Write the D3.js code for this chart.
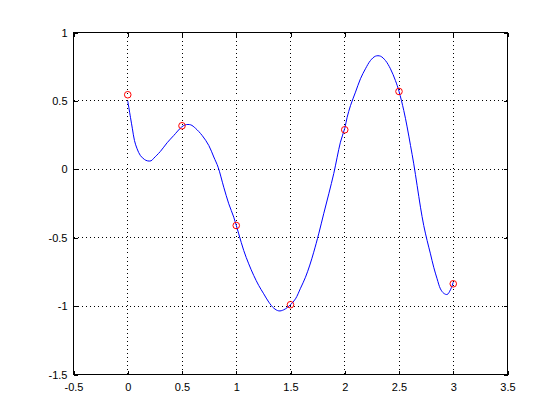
<!DOCTYPE html>
<html>
<head>
<meta charset="utf-8">
<script src="https://cdn.jsdelivr.net/npm/d3@7"></script>
<style>
  html, body { margin: 0; padding: 0; background: #fff; }
  svg { display: block; }
  text { font-family: "Liberation Sans", Arial, Helvetica, sans-serif; font-size: 11px; fill: #000; }
</style>
</head>
<body>
<script>
// ---- data ----
const xTicks = [-0.5, 0, 0.5, 1, 1.5, 2, 2.5, 3, 3.5];
const yTicks = [-1.5, -1, -0.5, 0, 0.5, 1];
const xTickLabels = ["-0.5", "0", "0.5", "1", "1.5", "2", "2.5", "3", "3.5"];
const yTickLabels = ["-1.5", "-1", "-0.5", "0", "0.5", "1"];

// sample points (red circles)
const sampleX = [0, 0.5, 1, 1.5, 2, 2.5, 3];
const sampleY = [0.545, 0.318, -0.411, -0.99, 0.289, 0.569, -0.837];

// blue curve
const curveX = [0.000, 0.025, 0.043, 0.062, 0.086, 0.117, 0.154, 0.180, 0.215, 0.240,
  0.300, 0.363, 0.424, 0.495, 0.530, 0.580, 0.624, 0.686, 0.747, 0.793,
  0.833, 0.885, 0.931, 0.977, 1.023, 1.069, 1.115, 1.161, 1.207, 1.253,
  1.300, 1.346, 1.392, 1.438, 1.500, 1.546, 1.592, 1.638, 1.678, 1.714,
  1.760, 1.806, 1.853, 1.899, 1.930, 1.960, 2.000, 2.022, 2.053, 2.099,
  2.145, 2.191, 2.237, 2.283, 2.329, 2.375, 2.421, 2.467, 2.500, 2.544,
  2.575, 2.606, 2.636, 2.667, 2.698, 2.728, 2.759, 2.790, 2.820, 2.851,
  2.882, 2.912, 2.944, 2.974, 3.000];
const curveY = [0.500, 0.380, 0.296, 0.210, 0.150, 0.100, 0.072, 0.062, 0.062, 0.081,
  0.130, 0.194, 0.247, 0.308, 0.325, 0.325, 0.300, 0.247, 0.174, 0.090,
  0.015, -0.131, -0.252, -0.350, -0.472, -0.594, -0.691, -0.776, -0.849, -0.910,
  -0.971, -1.015, -1.035, -1.027, -0.990, -0.947, -0.870, -0.789, -0.700, -0.606,
  -0.472, -0.325, -0.179, -0.030, 0.088, 0.198, 0.300, 0.380, 0.466, 0.564,
  0.662, 0.735, 0.795, 0.827, 0.827, 0.795, 0.735, 0.649, 0.570, 0.430,
  0.310, 0.174, 0.040, -0.118, -0.277, -0.411, -0.520, -0.618, -0.716, -0.800,
  -0.874, -0.906, -0.915, -0.881, -0.825];

// ---- drawing ----
const W = 560, H = 420;
const L = 73.5, R = 507.5, T = 32.5, B = 374.5;

const svg = d3.select("body").append("svg").attr("width", W).attr("height", H);
svg.append("rect").attr("width", W).attr("height", H).attr("fill", "#fff");

const x = d3.scaleLinear().domain([-0.5, 3.5]).range([L, R]);
const y = d3.scaleLinear().domain([-1.5, 1]).range([B, T]);

const px = v => Math.round(x(v) - 0.5) + 0.5;
const py = v => Math.round(y(v) - 0.5) + 0.5;

// grid
const grid = svg.append("g").attr("stroke", "#000").attr("stroke-width", 1)
  .attr("stroke-dasharray", "1,3").attr("shape-rendering", "crispEdges");
grid.selectAll("line.gx").data(xTicks.slice(1, -1)).enter().append("line")
  .attr("x1", d => px(d)).attr("x2", d => px(d)).attr("y1", T).attr("y2", B);
grid.selectAll("line.gy").data(yTicks.slice(1, -1)).enter().append("line")
  .attr("y1", d => py(d)).attr("y2", d => py(d)).attr("x1", L).attr("x2", R);

// axes via d3 axis generators (inward ticks)
const tickLen = 4;
const xAxis = d3.axisBottom(x).tickValues(xTicks).tickFormat((d, i) => xTickLabels[i])
  .tickSizeInner(-tickLen).tickSizeOuter(0).tickPadding(10);
const yAxis = d3.axisLeft(y).tickValues(yTicks).tickFormat((d, i) => yTickLabels[i])
  .tickSizeInner(-tickLen).tickSizeOuter(0).tickPadding(10);
const xAxisTop = d3.axisTop(x).tickValues(xTicks).tickFormat("").tickSizeInner(-tickLen).tickSizeOuter(0);
const yAxisRight = d3.axisRight(y).tickValues(yTicks).tickFormat("").tickSizeInner(-tickLen).tickSizeOuter(0);

function style(g) {
  g.attr("shape-rendering", "crispEdges");
  g.select(".domain").remove();
  g.selectAll(".tick line").attr("stroke", "#000");
  g.selectAll(".tick text").attr("fill", "#000")
    .style("font-family", '"Liberation Sans", Arial, sans-serif').style("font-size", "11px");
}
svg.append("g").attr("transform", `translate(0,${B})`).call(xAxis).call(style)
  .selectAll(".tick text").attr("dy", "0.71em").attr("y", 8.5);
svg.append("g").attr("transform", `translate(${L},0)`).call(yAxis).call(style)
  .selectAll(".tick text").attr("x", -6);
svg.append("g").attr("transform", `translate(0,${T})`).call(xAxisTop).call(style);
svg.append("g").attr("transform", `translate(${R},0)`).call(yAxisRight).call(style);

// box
svg.append("rect").attr("x", L).attr("y", T).attr("width", R - L).attr("height", B - T)
  .attr("fill", "none").attr("stroke", "#000").attr("stroke-width", 1)
  .attr("shape-rendering", "crispEdges");

// curve
const pts = curveX.map((v, i) => [v, curveY[i]]);
const line = d3.line().x(d => x(d[0])).y(d => y(d[1])).curve(d3.curveCatmullRom.alpha(0.5));
svg.append("path").datum(pts).attr("d", line)
  .attr("fill", "none").attr("stroke", "#0000ff").attr("stroke-width", 1);

// sample markers
svg.append("g").selectAll("circle").data(sampleX.map((v, i) => [v, sampleY[i]])).enter()
  .append("circle")
  .attr("cx", d => x(d[0])).attr("cy", d => y(d[1])).attr("r", 3.3)
  .attr("fill", "none").attr("stroke", "#ff0000").attr("stroke-width", 1);
</script>
</body>
</html>
